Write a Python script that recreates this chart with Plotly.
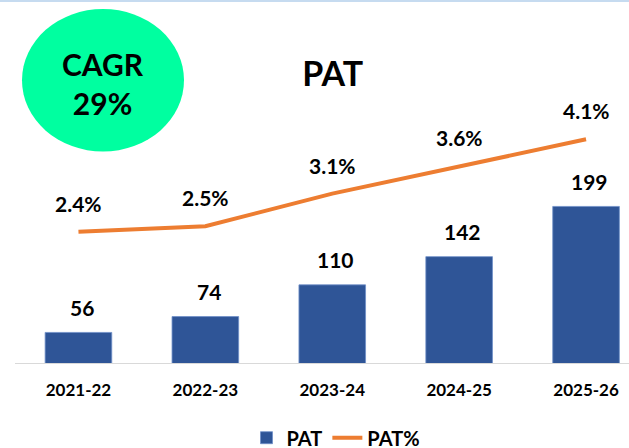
import plotly.graph_objects as go

# ---- data ----
years = ["2021-22", "2022-23", "2023-24", "2024-25", "2025-26"]
pat = [56, 74, 110, 142, 199]
pat_pct = [2.4, 2.5, 3.1, 3.6, 4.1]
pat_pct_labels = ["2.4%", "2.5%", "3.1%", "3.6%", "4.1%"]
cagr_text = "CAGR<br>29%"
title_text = "PAT"

FONT = "Lato"
BAR_COLOR = "#2F5597"
LINE_COLOR = "#ED7D31"

W, H = 629, 448
ML, MR, MT, MB = 15, 0, 0, 85
PW = W - ML - MR
PH = H - MT - MB

fig = go.Figure()

fig.add_trace(go.Bar(
    x=years, y=pat, name="PAT",
    marker=dict(color=BAR_COLOR, line=dict(color="#6F8FC8", width=0.8)),
    width=0.525,
    yaxis="y",
))

fig.add_trace(go.Scatter(
    x=years, y=pat_pct, name="PAT%",
    mode="lines",
    line=dict(color=LINE_COLOR, width=4),
    yaxis="y2",
))

annotations = []
for xv, yv in zip(years, pat):
    annotations.append(dict(
        x=xv, y=yv, xref="x", yref="y", text=str(yv), showarrow=False,
        yanchor="middle", xanchor="center", yshift=25, xshift=3.5,
        font=dict(family=FONT, size=21, color="black", weight="bold"),
    ))
for xv, yv, lab in zip(years, pat_pct, pat_pct_labels):
    annotations.append(dict(
        x=xv, y=yv, xref="x", yref="y2", text=lab, showarrow=False,
        yanchor="middle", xanchor="center", yshift=28.5,
        font=dict(family=FONT, size=21, color="black", weight="bold"),
    ))

def px_x(p):
    return (p - ML) / PW

def px_y(p):
    return 1 - (p - MT) / PH

annotations.append(dict(
    x=px_x(103), y=px_y(83.3), xref="paper", yref="paper",
    text=cagr_text, showarrow=False, xanchor="center", yanchor="middle",
    font=dict(family=FONT, size=30, color="black", weight="bold"),
))

shapes = [
    dict(type="circle", xref="paper", yref="paper",
         x0=px_x(22), x1=px_x(184), y0=px_y(151.5), y1=px_y(9),
         fillcolor="#00FFA0", line=dict(width=0), layer="above"),
    dict(type="line", xref="paper", yref="paper",
         x0=px_x(0), x1=1, y0=px_y(1), y1=px_y(1),
         line=dict(color="#C6DBF0", width=2)),
]

fig.update_layout(
    width=W, height=H,
    margin=dict(l=ML, r=MR, t=MT, b=MB, autoexpand=False),
    paper_bgcolor="white", plot_bgcolor="white",
    font=dict(family=FONT, color="black"),
    title=dict(text=title_text, x=332.7 / W, y=1 - 74.5 / H,
               xanchor="center", yanchor="middle", xref="container", yref="container",
               font=dict(family=FONT, size=34, color="black", weight="bold")),
    xaxis=dict(type="category", range=[-0.5, -0.5 + PW / 126.9],
               showline=True, linecolor="#D9D9D9", linewidth=1,
               showgrid=False, zeroline=False, ticks="", automargin=False,
               ticklabelstandoff=12,
               tickfont=dict(family=FONT, size=17, color="black", weight="bold")),
    yaxis=dict(range=[21.3, 21.3 + PH / 0.8811], visible=False, showgrid=False,
               automargin=False),
    yaxis2=dict(range=[2.4 - (MT + PH - 231.7) / 54.35, 2.4 + (231.7 - MT) / 54.35],
                overlaying="y", side="right", visible=False, showgrid=False,
                automargin=False),
    showlegend=True,
    legend=dict(orientation="h", x=336 / W, xref="container", xanchor="center",
                y=1 - 437.7 / H, yref="container", yanchor="middle",
                font=dict(family=FONT, size=20, color="black", weight="bold"),
                bgcolor="rgba(0,0,0,0)"),
    annotations=annotations,
    shapes=shapes,
    bargap=0.47,
)

fig.write_html(
    "out.html",
    config={"displayModeBar": False},
    post_script="document.body.style.margin='0';document.body.style.overflow='hidden';",
)
